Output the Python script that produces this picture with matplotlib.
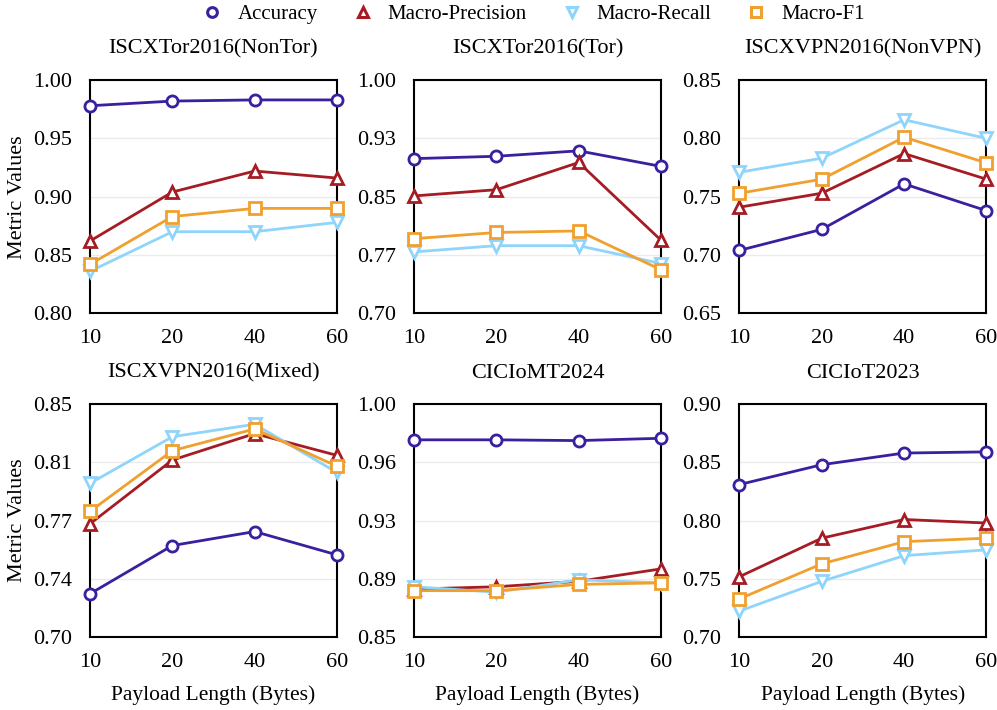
import numpy as np
import matplotlib
matplotlib.use("Agg")
import matplotlib.pyplot as plt
from matplotlib.lines import Line2D

plt.rcParams['font.family'] = ['Liberation Serif', 'DejaVu Serif']
plt.rcParams['font.size'] = 16

# payload lengths (x categories)
payload = ["10", "20", "40", "60"]
metrics = ["Accuracy", "Macro-Precision", "Macro-Recall", "Macro-F1"]

titles = ["ISCXTor2016(NonTor)", "ISCXTor2016(Tor)", "ISCXVPN2016(NonVPN)",
          "ISCXVPN2016(Mixed)", "CICIoMT2024", "CICIoT2023"]

# values
nontor_acc = [0.978, 0.982, 0.983, 0.983]
nontor_prec = [0.862, 0.904, 0.922, 0.916]
nontor_rec = [0.836, 0.870, 0.870, 0.878]
nontor_f1 = [0.842, 0.883, 0.890, 0.890]

tor_acc = [0.899, 0.902, 0.909, 0.889]
tor_prec = [0.851, 0.859, 0.894, 0.794]
tor_rec = [0.779, 0.787, 0.787, 0.764]
tor_f1 = [0.796, 0.804, 0.806, 0.756]

nonvpn_acc = [0.704, 0.722, 0.761, 0.738]
nonvpn_prec = [0.741, 0.753, 0.787, 0.765]
nonvpn_rec = [0.771, 0.783, 0.816, 0.800]
nonvpn_f1 = [0.753, 0.765, 0.801, 0.779]

mixed_acc = [0.728, 0.759, 0.768, 0.753]
mixed_prec = [0.773, 0.814, 0.831, 0.817]
mixed_rec = [0.799, 0.829, 0.837, 0.806]
mixed_f1 = [0.781, 0.820, 0.834, 0.810]

iomt_acc = [0.977, 0.977, 0.9765, 0.978]
iomt_prec = [0.881, 0.8825, 0.886, 0.894]
iomt_rec = [0.8825, 0.879, 0.887, 0.885]
iomt_f1 = [0.880, 0.880, 0.884, 0.885]

iot_acc = [0.831, 0.848, 0.858, 0.859]
iot_prec = [0.752, 0.785, 0.801, 0.798]
iot_rec = [0.7225, 0.748, 0.770, 0.775]
iot_f1 = [0.733, 0.763, 0.782, 0.785]

data = [
    (nontor_acc, nontor_prec, nontor_rec, nontor_f1),
    (tor_acc, tor_prec, tor_rec, tor_f1),
    (nonvpn_acc, nonvpn_prec, nonvpn_rec, nonvpn_f1),
    (mixed_acc, mixed_prec, mixed_rec, mixed_f1),
    (iomt_acc, iomt_prec, iomt_rec, iomt_f1),
    (iot_acc, iot_prec, iot_rec, iot_f1),
]

ylims = [(0.80, 1.00), (0.70, 1.00), (0.65, 0.85),
         (0.70, 0.85), (0.85, 1.00), (0.70, 0.90)]
ytick_labels = [
    ["0.80", "0.85", "0.90", "0.95", "1.00"],
    ["0.70", "0.77", "0.85", "0.93", "1.00"],
    ["0.65", "0.70", "0.75", "0.80", "0.85"],
    ["0.70", "0.74", "0.77", "0.81", "0.85"],
    ["0.85", "0.89", "0.93", "0.96", "1.00"],
    ["0.70", "0.75", "0.80", "0.85", "0.90"],
]

colors = ["#3a1f9e", "#a51c24", "#8fd4fb", "#f0a02e"]
markers = ["o", "^", "v", "s"]

fig = plt.figure(figsize=(9.97, 7.10), dpi=100)

lefts = [0.0903, 0.4153, 0.7417]
bottoms = [0.5587, 0.1024]
w, h = 0.2477, 0.3285

x = np.arange(len(payload))
for i in range(6):
    r, c = divmod(i, 3)
    ax = fig.add_axes([lefts[c], bottoms[r], w, h])
    for k in range(4):
        ax.plot(x, data[i][k], color=colors[k], marker=markers[k],
                markersize=8, markerfacecolor="white",
                markeredgewidth=2, linewidth=2, clip_on=False,
                zorder=3, label=metrics[k])
    lo, hi = ylims[i]
    ax.set_ylim(lo, hi)
    ax.set_xlim(0, 3)
    ticks = np.linspace(lo, hi, 5)
    ax.set_yticks(ticks)
    ax.set_yticklabels(ytick_labels[i])
    ax.set_xticks(x)
    ax.set_xticklabels(payload)
    ax.tick_params(axis="y", length=0, pad=13, labelsize=16)
    ax.tick_params(axis="x", length=0, pad=11, labelsize=16)
    ax.grid(axis="y", color="#ebebeb", linewidth=1)
    ax.set_axisbelow(True)
    for s in ax.spines.values():
        s.set_linewidth(1.5)
    ax.set_title(titles[i], fontsize=16, pad=19)
    if c == 0:
        ax.set_ylabel("Metric Values", fontsize=16, labelpad=4)
    if r == 1:
        ax.set_xlabel("Payload Length (Bytes)", fontsize=15.5, labelpad=10)

# legend shows markers only
handles = [Line2D([], [], color=colors[k], marker=markers[k], linestyle="none",
                  markersize=7, markerfacecolor="white", markeredgewidth=2.2)
           for k in range(4)]
fig.legend(handles=handles, labels=metrics, loc="upper center",
           bbox_to_anchor=(0.535, 1.02), ncol=4, frameon=False,
           fontsize=15, columnspacing=1.65, handlelength=1.0,
           handletextpad=0.7)

fig.savefig("out.png", dpi=100)
